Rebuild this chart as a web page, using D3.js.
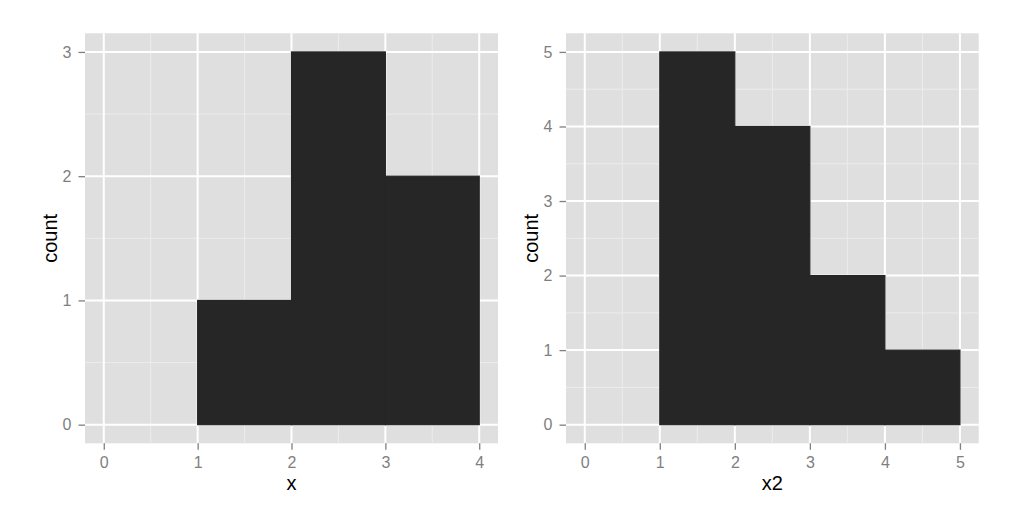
<!DOCTYPE html>
<html>
<head>
  <meta charset="utf-8">
  <title>Histograms</title>
  <style>
    body { margin: 0; background: #fff; }
  </style>
</head>
<body>
<script src="https://cdn.jsdelivr.net/npm/d3@7"></script>
<script>
  // data: bin edges and counts for each panel
  const leftBinStart = [1, 2, 3];
  const leftBinEnd = [2, 3, 4];
  const leftCounts = [1, 3, 2];
  const leftXTicks = [0, 1, 2, 3, 4];
  const leftYTicks = [0, 1, 2, 3];

  const rightBinStart = [1, 2, 3, 4];
  const rightBinEnd = [2, 3, 4, 5];
  const rightCounts = [5, 4, 2, 1];
  const rightXTicks = [0, 1, 2, 3, 4, 5];
  const rightYTicks = [0, 1, 2, 3, 4, 5];

  const W = 1021, H = 517;
  const font = "'Liberation Sans', Arial, Helvetica, sans-serif";

  const svg = d3.select("body").append("svg")
    .attr("width", W)
    .attr("height", H);

  function panel(opts) {
    const x = d3.scaleLinear().domain(opts.xDomain).range([opts.left, opts.right]);
    const y = d3.scaleLinear().domain(opts.yDomain).range([opts.bottom, opts.top]);
    const g = svg.append("g");

    // background
    g.append("rect")
      .attr("x", opts.left).attr("y", opts.top)
      .attr("width", opts.right - opts.left)
      .attr("height", opts.bottom - opts.top)
      .attr("fill", "#dfdfdf");

    // minor grid (half way between major ticks)
    const xMinor = opts.xTicks.slice(0, -1).map(d => d + 0.5);
    const yMinor = opts.yTicks.slice(0, -1).map(d => d + 0.5);

    g.selectAll(".vminor").data(xMinor).enter().append("line")
      .attr("x1", d => x(d)).attr("x2", d => x(d))
      .attr("y1", opts.top).attr("y2", opts.bottom)
      .attr("stroke", "#ececec").attr("stroke-width", 1);
    g.selectAll(".hminor").data(yMinor).enter().append("line")
      .attr("x1", opts.left).attr("x2", opts.right)
      .attr("y1", d => y(d)).attr("y2", d => y(d))
      .attr("stroke", "#ececec").attr("stroke-width", 1);

    // major grid
    g.selectAll(".vmajor").data(opts.xTicks).enter().append("line")
      .attr("x1", d => x(d)).attr("x2", d => x(d))
      .attr("y1", opts.top).attr("y2", opts.bottom)
      .attr("stroke", "#ffffff").attr("stroke-width", 2);
    g.selectAll(".hmajor").data(opts.yTicks).enter().append("line")
      .attr("x1", opts.left).attr("x2", opts.right)
      .attr("y1", d => y(d)).attr("y2", d => y(d))
      .attr("stroke", "#ffffff").attr("stroke-width", 2);

    // bars
    g.selectAll(".bar").data(opts.counts).enter().append("rect")
      .attr("class", "bar")
      .attr("x", (d, i) => x(opts.binStart[i]))
      .attr("width", (d, i) => x(opts.binEnd[i]) - x(opts.binStart[i]))
      .attr("y", d => y(d))
      .attr("height", d => y(0) - y(d))
      .attr("fill", "#262626")
      .attr("stroke", "#262626")
      .attr("stroke-width", 1.2);

    // axes
    const xAxis = d3.axisBottom(x).tickValues(opts.xTicks).tickSize(6.5).tickPadding(7).tickFormat(d3.format("d"));
    const yAxis = d3.axisLeft(y).tickValues(opts.yTicks).tickSize(6.5).tickPadding(7).tickFormat(d3.format("d"));

    const gx = g.append("g")
      .attr("transform", "translate(0," + opts.bottom + ")")
      .call(xAxis);
    const gy = g.append("g")
      .attr("transform", "translate(" + opts.left + ",0)")
      .call(yAxis);

    [gx, gy].forEach(a => {
      a.select(".domain").remove();
      a.selectAll(".tick line").attr("stroke", "#7f7f7f").attr("stroke-width", 1.3);
      a.selectAll(".tick text").attr("fill", "#7f7f7f").attr("font-size", "16px").attr("font-family", font);
    });

    // axis titles
    g.append("text")
      .attr("x", (opts.left + opts.right) / 2)
      .attr("y", opts.bottom + 46.5)
      .attr("text-anchor", "middle")
      .attr("font-size", "20px")
      .attr("font-family", font)
      .attr("fill", "#000")
      .text(opts.xLabel);

    g.append("text")
      .attr("transform", "translate(" + (opts.left - 28.5) + "," + ((opts.top + opts.bottom) / 2) + ") rotate(-90)")
      .attr("text-anchor", "middle")
      .attr("font-size", "20px")
      .attr("font-family", font)
      .attr("fill", "#000")
      .text("count");
  }

  panel({
    left: 85, right: 498, top: 33.3, bottom: 443.3,
    xDomain: [-0.2, 4.2], yDomain: [-0.15, 3.15],
    xTicks: leftXTicks, yTicks: leftYTicks,
    binStart: leftBinStart, binEnd: leftBinEnd, counts: leftCounts,
    xLabel: "x"
  });

  panel({
    left: 566, right: 978.7, top: 33.3, bottom: 443.3,
    xDomain: [-0.25, 5.25], yDomain: [-0.25, 5.25],
    xTicks: rightXTicks, yTicks: rightYTicks,
    binStart: rightBinStart, binEnd: rightBinEnd, counts: rightCounts,
    xLabel: "x2"
  });
</script>
</body>
</html>
